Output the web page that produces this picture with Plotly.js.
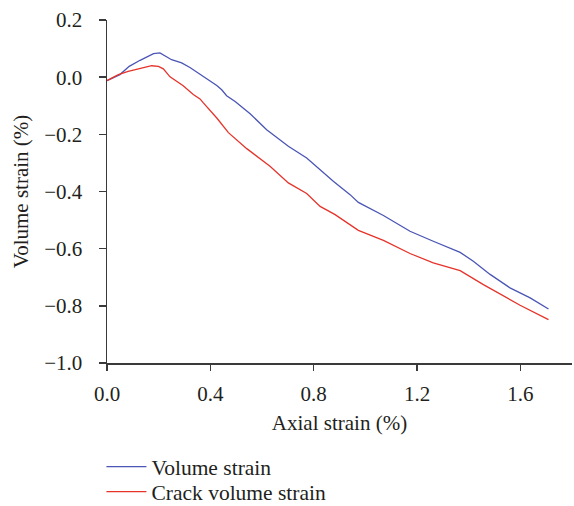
<!DOCTYPE html>
<html>
<head>
<meta charset="utf-8">
<script src="https://cdn.plot.ly/plotly-3.0.1.min.js"></script>
<style>html,body{margin:0;padding:0;background:#fff;}#chart{width:574px;height:506px;}</style>
</head>
<body>
<div id="chart"></div>
<script>
// Volume strain (blue)
const volX = [0, 0.05, 0.086, 0.128, 0.18, 0.205, 0.25, 0.289, 0.321, 0.36, 0.392, 0.425, 0.444, 0.463, 0.496, 0.554, 0.618, 0.702, 0.773, 0.812, 0.876, 0.941, 0.973, 1.07, 1.173, 1.263, 1.367, 1.418, 1.483, 1.56, 1.638, 1.709];
const volY = [-0.012, 0.009, 0.038, 0.059, 0.082, 0.085, 0.061, 0.05, 0.034, 0.011, -0.011, -0.029, -0.044, -0.065, -0.085, -0.128, -0.184, -0.242, -0.283, -0.314, -0.364, -0.411, -0.438, -0.484, -0.539, -0.574, -0.613, -0.644, -0.69, -0.737, -0.772, -0.811];
// Crack volume strain (red)
const crackX = [0, 0.044, 0.082, 0.128, 0.173, 0.199, 0.218, 0.244, 0.295, 0.334, 0.36, 0.373, 0.425, 0.47, 0.541, 0.631, 0.702, 0.773, 0.825, 0.883, 0.941, 0.973, 1.07, 1.173, 1.263, 1.367, 1.457, 1.547, 1.599, 1.709];
const crackY = [-0.012, 0.009, 0.02, 0.03, 0.04, 0.038, 0.029, 0.001, -0.03, -0.061, -0.076, -0.09, -0.143, -0.194, -0.25, -0.312, -0.37, -0.407, -0.452, -0.481, -0.516, -0.536, -0.571, -0.617, -0.65, -0.677, -0.726, -0.772, -0.798, -0.848];
const seriesNames = ["Volume strain", "Crack volume strain"];
const xTicks = [0, 0.4, 0.8, 1.2, 1.6];
const xTickText = ["0.0", "0.4", "0.8", "1.2", "1.6"];
const yTicks = [0.2, 0, -0.2, -0.4, -0.6, -0.8, -1.0];
const yTickText = ["0.2", "0.0", "\u22120.2", "\u22120.4", "\u22120.6", "\u22120.8", "\u22121.0"];

const font = "Liberation Serif, Times New Roman, serif";
const textColor = "#231f20";
const axisColor = "#3a3a3a";
const fsTick = 21, fsTitle = 21, fsLegend = 21.5;

const traces = [
  {x: volX, y: volY, name: seriesNames[0], mode: "lines", line: {color: "#4a55b5", width: 1.3}, legend: "legend"},
  {x: crackX, y: crackY, name: seriesNames[1], mode: "lines", line: {color: "#e5332a", width: 1.3}, legend: "legend2"}
];

const legendBase = {x: -0.012, xanchor: "left", yanchor: "middle", orientation: "v", itemwidth: 40,
  font: {family: font, size: fsLegend, color: textColor}, bgcolor: "rgba(0,0,0,0)", borderwidth: 0};

const layout = {
  width: 574, height: 506,
  margin: {l: 107, r: 2, t: 20, b: 143, autoexpand: false},
  paper_bgcolor: "#fff", plot_bgcolor: "#fff",
  font: {family: font, size: fsTick, color: textColor},
  showlegend: true,
  legend: Object.assign({}, legendBase, {y: -0.302}),
  legend2: Object.assign({}, legendBase, {y: -0.375}),
  xaxis: {
    range: [0, 1.8], tickvals: xTicks, ticktext: xTickText,
    showgrid: false, zeroline: false, showline: true, linecolor: axisColor, linewidth: 1.5,
    ticks: "outside", ticklen: 6, tickwidth: 1.5, tickcolor: axisColor, ticklabelstandoff: 5,
    tickfont: {family: font, size: fsTick, color: textColor},
    title: {text: "Axial strain (%)", font: {family: font, size: fsTitle, color: textColor}, standoff: 10}
  },
  yaxis: {
    range: [-1.0, 0.2], tickvals: yTicks, ticktext: yTickText,
    showgrid: false, zeroline: false, showline: true, linecolor: axisColor, linewidth: 1.5,
    ticks: "outside", ticklen: 7, tickwidth: 1.5, tickcolor: axisColor, ticklabelstandoff: 12,
    tickfont: {family: font, size: fsTick, color: textColor},
    title: {text: "Volume strain (%)", font: {family: font, size: fsTitle, color: textColor}, standoff: 10}
  }
};

Plotly.newPlot("chart", traces, layout, {displayModeBar: false, staticPlot: true});
</script>
</body>
</html>
